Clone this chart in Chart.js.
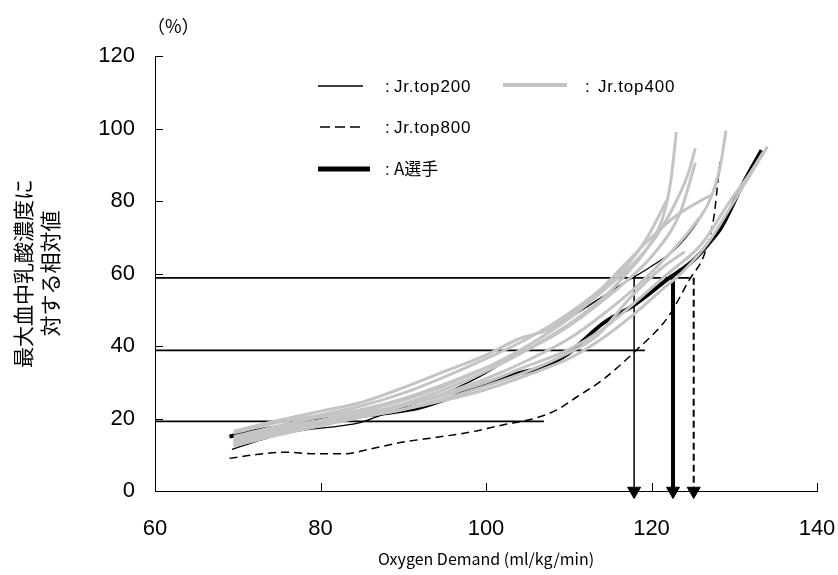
<!DOCTYPE html>
<html>
<head>
<meta charset="utf-8">
<script src="https://cdn.jsdelivr.net/npm/chart.js@4.4.1/dist/chart.umd.min.js"></script>
<style>
    body { margin: 0; background: #fff; }
    #lactateChart { display: block; }
</style>
</head>
<body>
<canvas id="lactateChart" width="838" height="575"></canvas>
<script>
// values (x = oxygen demand, y = % of max lactate)
const playerA = [[69, 15], [72, 16.5], [76, 18], [80, 19.5], [84, 20.5], [88, 21.5], [92, 23], [96, 26], [100, 29.8], [104, 32.5], [107, 34.3], [110, 38], [112, 42], [114, 46], [118, 51.5], [122, 58.5], [125, 63.5], [127, 68.5], [128.5, 73], [131, 84.5], [133.3, 94]];
const top200 = [[69.3, 11.5], [72, 13.5], [75, 15.5], [78, 16.8], [82, 17.8], [85, 19], [88, 21.5], [92, 24.5], [96, 28], [100, 32.5], [104, 38.5], [108, 44.5], [112, 50.5], [116, 56.5], [120, 62], [123, 67], [125.5, 74], [127, 80], [128, 86], [128.3, 89]];
const top800 = [[69, 9], [72, 10], [76, 10.7], [79, 10.3], [83, 10.3], [86, 11.6], [90, 13.5], [94, 14.8], [98, 16.2], [102, 18.2], [105.5, 19.8], [108.5, 22.3], [111, 26], [114, 30.5], [118, 38.5], [122, 48], [124.5, 58], [126.5, 66], [127.6, 76.5], [128, 85], [128.3, 91]];

// Jr.top400 individual curves
const top400_1 = [[69.5, 13], [75, 16], [80, 18.5], [85, 21], [90, 24], [95, 28], [100, 33], [105, 39], [110, 46], [114, 53], [117, 60], [119.5, 67], [121.3, 75], [122.3, 85], [123, 99]];
const top400_2 = [[69.5, 14], [75, 17.5], [80, 19.5], [85, 22], [90, 25], [95, 29], [100, 34], [105, 40], [110, 47.5], [114, 55], [117.5, 62], [120.5, 70], [123, 80], [124.5, 88], [125.3, 94.6]];
const top400_3 = [[69.5, 15], [75, 18], [80, 20.5], [85, 22.5], [90, 25.5], [95, 29.5], [100, 34], [105, 39], [109, 44], [113, 50.5], [117, 58], [120.5, 66], [123.5, 77], [125.3, 90.5]];
const top400_4 = [[69.5, 12.5], [75, 15.5], [80, 18], [85, 20.5], [90, 23.5], [95, 27], [100, 31], [105, 36], [110, 42], [114, 48.5], [118, 56], [122, 65], [125, 73], [127, 80], [128.3, 89.5], [129, 99.4]];
const top400_5 = [[69.5, 14], [75, 17], [80, 19], [85, 21.5], [90, 23.5], [95, 26.5], [100, 30], [105, 34.5], [110, 39], [114, 44.5], [118, 52], [122, 60], [126, 68], [129.5, 80], [132, 88], [133.5, 93.5]];
const top400_6 = [[69.5, 16], [75, 19], [80, 21], [85, 23.5], [90, 27], [95, 31.5], [100, 36.5], [105, 42], [110, 49], [114, 56], [117, 63], [120, 70], [123, 76], [125.5, 79.5], [127.5, 82]];
const top400_7 = [[69.5, 16.5], [75, 19.5], [80, 22], [85, 24.5], [90, 28.5], [95, 33], [100, 37.5], [104, 42], [107.5, 44.5], [111, 50], [114, 55], [117, 62], [119.5, 70], [121.8, 80]];
const top400_8 = [[69.5, 13.5], [75, 16.5], [80, 18.5], [85, 20.5], [90, 22.5], [95, 25.5], [100, 29], [105, 33], [109, 37], [113.5, 43], [117.5, 53.5], [121.5, 62], [124, 66]];
const top400_9 = [[69.5, 13], [75, 16], [80, 18.5], [85, 20.5], [90, 22.5], [95, 25], [100, 28], [105, 32], [110, 36.5], [114, 42], [118, 49], [121, 55], [124, 61], [127, 69], [130, 80], [134, 95]];
const top400Curves = [top400_1, top400_2, top400_3, top400_4, top400_5, top400_6, top400_7, top400_8, top400_9];

// reference levels and the arrows dropped from the 58.8 level
const levelY = [58.8, 38.8, 19.2];
const levelEndX = [124.6, 119.2, 107];
const arrowX = [117.9, 122.6, 125.1];

const xTicks = [60, 80, 100, 120, 140];
const yTicks = [0, 20, 40, 60, 80, 100, 120];

const toPoints = (pairs) => pairs.map(p => ({ x: p[0], y: p[1] }));

const datasets = [];

top400Curves.forEach(curve => {
    datasets.push({
        data: toPoints(curve),
        borderColor: '#c4c4c4',
        borderWidth: 3,
        pointRadius: 0,
        showLine: true,
        cubicInterpolationMode: 'monotone'
    });
});

levelY.forEach((v, i) => {
    datasets.push({
        data: [{ x: 60, y: v }, { x: levelEndX[i], y: v }],
        borderColor: '#000',
        borderWidth: 1.8,
        pointRadius: 0,
        showLine: true
    });
});

datasets.push({
    data: toPoints(top800),
    borderColor: '#000',
    borderWidth: 1.5,
    borderDash: [8, 5],
    pointRadius: 0,
    showLine: true,
    cubicInterpolationMode: 'monotone'
});

datasets.push({
    data: toPoints(top200),
    borderColor: '#000',
    borderWidth: 1.3,
    pointRadius: 0,
    showLine: true,
    cubicInterpolationMode: 'monotone'
});

datasets.push({
    data: toPoints(playerA),
    borderColor: '#000',
    borderWidth: 4,
    pointRadius: 0,
    showLine: true,
    cubicInterpolationMode: 'monotone'
});

// arrows: thin, thick, dashed
const arrowStyles = [
    { width: 1.5, dash: [] },
    { width: 4, dash: [] },
    { width: 2, dash: [7, 4] }
];
arrowX.forEach((v, i) => {
    datasets.push({
        data: [{ x: v, y: levelY[0] }, { x: v, y: 0 }],
        borderColor: '#000',
        borderWidth: arrowStyles[i].width,
        borderDash: arrowStyles[i].dash,
        showLine: true,
        clip: false,
        pointStyle: 'triangle',
        pointRotation: 180,
        pointRadius: [0, 7.5],
        pointBackgroundColor: '#000',
        pointBorderColor: '#000',
        pointBorderWidth: 1
    });
});

// inside tick marks, the (%) unit and the hand-placed legend
const overlayPlugin = {
    id: 'overlay',
    afterDraw(chart) {
        const ctx = chart.ctx;
        const xs = chart.scales.x;
        const ys = chart.scales.y;
        ctx.save();
        ctx.strokeStyle = '#000';
        ctx.lineWidth = 1;
        xTicks.slice(1).forEach(v => {
            const px = Math.round(xs.getPixelForValue(v)) + 0.5;
            ctx.beginPath();
            ctx.moveTo(px, ys.bottom);
            ctx.lineTo(px, ys.bottom - 8);
            ctx.stroke();
        });
        yTicks.slice(1).forEach(v => {
            const py = Math.round(ys.getPixelForValue(v)) + 0.5;
            ctx.beginPath();
            ctx.moveTo(xs.left, py);
            ctx.lineTo(xs.left + 8, py);
            ctx.stroke();
        });

        ctx.fillStyle = '#000';
        ctx.textBaseline = 'middle';
        ctx.font = '18px "Noto Sans CJK JP"';
        ctx.fillText('（%）', 147, 26);

        const legendLine = (x1, x2, y, color, width, dash) => {
            ctx.beginPath();
            ctx.strokeStyle = color;
            ctx.lineWidth = width;
            ctx.setLineDash(dash);
            ctx.moveTo(x1, y);
            ctx.lineTo(x2, y);
            ctx.stroke();
            ctx.setLineDash([]);
        };
        legendLine(318, 363, 86, '#000', 1.5, []);
        legendLine(503, 567, 85, '#c4c4c4', 4, []);
        legendLine(320, 364, 127, '#000', 1.5, [10, 5]);
        legendLine(318, 370, 169, '#000', 5, []);

        ctx.font = '17px "Liberation Sans"';
        ctx.letterSpacing = '0.8px';
        ctx.fillText(':', 385, 87);
        ctx.fillText('Jr.top200', 394, 87);
        ctx.fillText(':', 585, 87);
        ctx.fillText('Jr.top400', 598, 87);
        ctx.fillText(':', 385, 128);
        ctx.fillText('Jr.top800', 394, 128);
        ctx.fillText(':', 385, 170);
        ctx.letterSpacing = '0px';
        ctx.font = '17px "Noto Sans CJK JP"';
        ctx.fillText('A選手', 394, 169);
        ctx.restore();
    }
};

const ctx = document.getElementById('lactateChart').getContext('2d');

new Chart(ctx, {
    type: 'scatter',
    data: { datasets: datasets },
    options: {
        responsive: false,
        animation: false,
        events: [],
        layout: {
            padding: { top: 56, right: 0, left: 0, bottom: 0 }
        },
        plugins: {
            legend: { display: false },
            tooltip: { enabled: false }
        },
        scales: {
            x: {
                type: 'linear',
                min: 60,
                max: 140,
                afterFit: (scale) => {
                    scale.height = 84;
                    scale.paddingLeft = 0;
                    scale.paddingRight = 21;
                },
                afterBuildTicks: (scale) => { scale.ticks = xTicks.map(v => ({ value: v })); },
                grid: { display: false, drawTicks: false },
                border: { display: true, color: '#000', width: 1 },
                ticks: {
                    color: '#000',
                    padding: 25,
                    font: { family: '"Liberation Sans"', size: 22 }
                },
                title: {
                    display: true,
                    text: 'Oxygen Demand (ml/kg/min)',
                    color: '#000',
                    padding: { top: 0, bottom: 6 },
                    font: { family: '"Noto Sans CJK JP"', size: 16 }
                }
            },
            y: {
                type: 'linear',
                min: 0,
                max: 120,
                afterFit: (scale) => {
                    scale.width = 155;
                    scale.paddingTop = 0;
                    scale.paddingBottom = 0;
                },
                afterBuildTicks: (scale) => { scale.ticks = yTicks.map(v => ({ value: v })); },
                grid: { display: false, drawTicks: false },
                border: { display: true, color: '#000', width: 1 },
                ticks: {
                    color: '#000',
                    padding: 20,
                    font: { family: '"Liberation Sans"', size: 22 }
                },
                title: {
                    display: true,
                    text: ['最大血中乳酸濃度に', '対する相対値'],
                    color: '#000',
                    padding: { top: 9, bottom: 0 },
                    font: { family: '"Noto Sans CJK JP"', size: 21, lineHeight: 1.3 }
                }
            }
        }
    },
    plugins: [overlayPlugin]
});
</script>
</body>
</html>
